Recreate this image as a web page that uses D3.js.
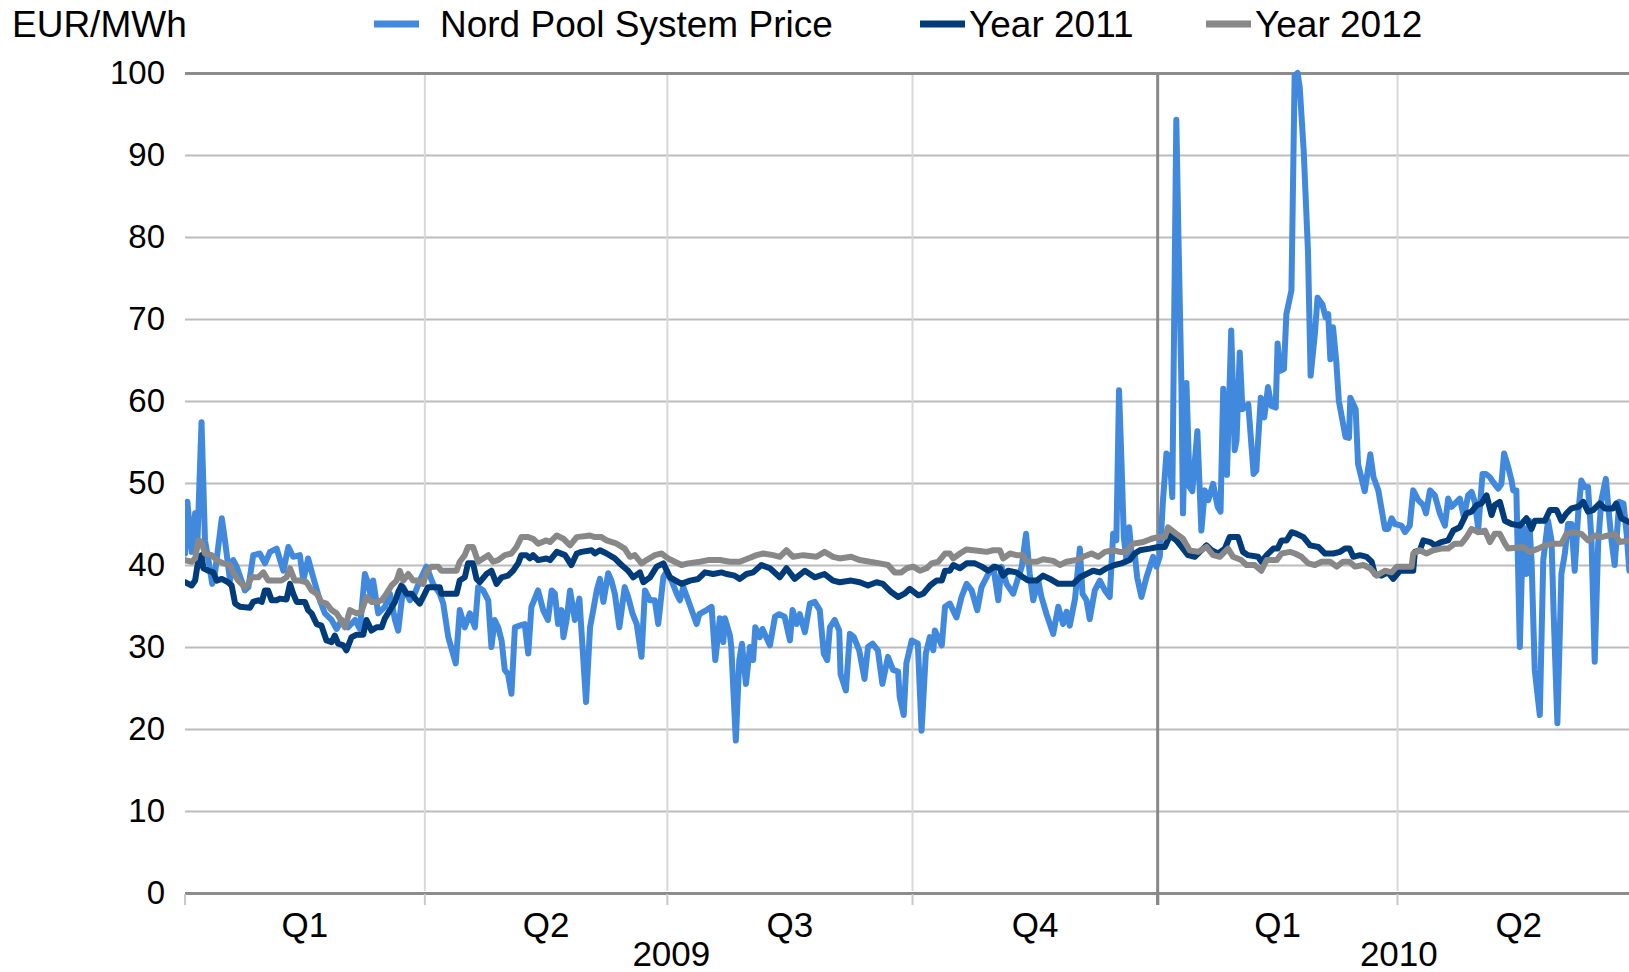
<!DOCTYPE html>
<html lang="en">
<head>
<meta charset="utf-8">
<title>Nord Pool System Price</title>
<script src="https://cdnjs.cloudflare.com/ajax/libs/d3/7.8.5/d3.min.js"></script>
<style>
  body { margin: 0; background: #fff; }
  svg { display: block; font-family: "Liberation Sans", Arial, sans-serif; }
  .y-axis .domain { display: none; }
  .y-axis text { font-size: 33px; fill: #000; }
  .qlabel, .ylabel { font-size: 35px; fill: #000; text-anchor: middle; }
  .legend text, .unit { font-size: 37px; fill: #000; }
</style>
</head>
<body>
<div id="chart"></div>
<script>

// values; day = days after 1 Jan 2009
const yTicks = [0, 10, 20, 30, 40, 50, 60, 70, 80, 90, 100];
const quarterStarts = ["2009-01-01", "2009-04-01", "2009-07-01", "2009-10-01", "2010-01-01", "2010-04-01", "2010-07-01"];
const quarterLabels = ["Q1", "Q2", "Q3", "Q4", "Q1", "Q2"];
const yearLabels = ["2009", "2010"];
const seriesNames = ["Nord Pool System Price", "Year 2011", "Year 2012"];

// [day, EUR/MWh]
const nordPool = [
  [0,41.4],[0.9,47.7],[2.5,41.6],[3.8,46.3],[4.6,42.2],[6.2,57.4],[7.5,43],[8.8,40.6],[10.2,37.7],[11.2,38.9],
  [13.8,45.7],[15,43],[16.9,38.1],[18.1,40.6],[19.4,39.8],[22.5,36.9],[23.8,37.3],[25.6,41.2],[28.1,41.4],[30,40.2],
  [31.9,41.6],[34.4,42],[36.9,39.3],[38.8,42.2],[40.6,41],[43.1,41.2],[44.4,38.1],[46.2,40.8],[48.1,38.5],[50.6,35.7],
  [52.5,34.1],[55,33.3],[56.9,32.2],[58.8,33.3],[61.2,32.4],[63.8,33.3],[65.6,32.2],[67.5,38.9],[68.8,37.7],[70,35.7],
  [70.6,38.1],[72.5,34.1],[75,34.9],[76.9,36.5],[78.8,33.3],[80,32],[81.9,37.3],[84.4,35.7],[86.2,36.5],[88.1,38.1],
  [90.6,39.8],[93.1,37.7],[95.6,36.5],[96.9,35.3],[98.8,31.2],[101.6,28],[103.1,34.5],[105,32.4],[106.9,34.1],[108.8,32.4],
  [110,37.3],[111.9,36.9],[113.8,35.7],[115,30],[116.2,33.3],[117.5,32.4],[118.8,30.8],[120,27.2],[121.2,26.7],[122.5,24.3],
  [123.8,32.4],[125.6,32.6],[127.5,32.8],[128.8,29.2],[130,34.9],[132.5,36.9],[134.4,34.5],[136.2,33.3],[137.6,36.9],[138.8,36.5],
  [140,32.8],[141.3,34.5],[142,31.2],[143.2,33.3],[144.5,36.9],[146.3,33.3],[148,35.9],[150.5,23.3],[152,32.4],[153.2,34.5],
  [154.5,36.9],[155.7,38.3],[157,35.5],[158.8,39],[160,38.1],[161.3,36.5],[163,32.4],[165,37.3],[166.3,36.1],[168,34],
  [169.5,32.8],[171.3,28.8],[172.6,36.9],[174.5,35.7],[176.3,35.7],[177.6,32.8],[179.5,38.5],[180.5,39.1],[182.6,38.1],[184.5,36.5],
  [185.7,35.7],[187,37.3],[188.8,35.7],[192,32.8],[193,34],[195.7,34.5],[197.6,34.9],[199,28.4],[200.7,33.5],[202,30.6],
  [202.6,33.5],[204.5,31.4],[205,30],[206.7,18.6],[208,28.4],[209,30.4],[210.5,25.5],[212,30],[213.2,28.4],[214,32.4],
  [215.7,31.2],[216.7,32.2],[219.5,30.2],[221.4,33.7],[223,34],[225,33.7],[227,30.8],[228,34.5],[229.5,32.8],[230.7,34],
  [232.6,31.8],[234.5,35.3],[236.3,35.5],[238.2,34.5],[239.7,29.2],[241,28.4],[242,32.4],[243.8,33.3],[245.5,32],[246,26.7],
  [248,24.7],[249.5,31.6],[251,31.2],[253,29.6],[255,26.1],[256.3,30],[258,30.4],[260,29.6],[261.7,25.5],[263.8,28.8],
  [265.7,27.2],[267.6,27],[268.2,23.9],[269.7,21.7],[270.7,28],[272.7,30.8],[275,30.4],[276.4,19.8],[278,29.2],[279.5,31.2],
  [280.8,29.6],[281.4,32],[284,30.2],[285.2,34.9],[287,35.3],[289.5,33.6],[291.4,36.1],[293.3,37.7],[295.2,36.9],[297.3,34.5],
  [298.9,37.3],[301.4,38.9],[303.3,39.8],[305.2,35.7],[306.4,39.8],[308.3,37.7],[310.8,36.5],[312.7,38.5],[314,39.8],[315.6,43.8],
  [317,38.9],[318.3,35.7],[320.2,38.1],[321.4,36.1],[323.3,34],[325.8,31.6],[327.7,34.9],[329.5,32.8],[330.8,34.3],[332,32.6],
  [334,35.9],[335.8,42],[336.8,36.5],[338.3,35.7],[339.5,33.4],[341.4,36.9],[343.3,38.1],[345.2,36.9],[347,36.1],[348.3,43.8],
  [349.5,43],[350.5,61.3],[351.4,52.8],[352.3,43.4],[353.3,40.6],[354.3,44.6],[355.2,41.4],[356.4,41.4],[357.3,38.5],[358.9,36.1],
  [360.8,38.5],[363.3,41],[364.5,39.8],[365.8,41],[367,47.9],[368.3,53.6],[369.5,53.2],[370.5,48.3],[371.2,70],[372,94.3],
  [372.8,80],[373.9,62.2],[374.5,46.3],[375.8,62.2],[377,49.5],[378,49],[379.9,56.3],[381.4,44.2],[382.7,49.1],[384,47.9],
  [385.8,49.9],[387.5,47.1],[388.6,46.5],[389.6,61.5],[391,51],[392.6,68.6],[393.9,54],[394.6,55.2],[395.8,65.9],[396.8,59],
  [399,59.6],[401,51.1],[402,51.5],[403.7,60.4],[405,58],[406.4,61.7],[407.7,59.4],[409.3,59.2],[410,67],[411,63.7],
  [412.4,63.9],[413.3,70.6],[415.2,73.5],[416.4,99.7],[417.5,100],[418.3,98.3],[419.8,90.5],[421.4,78.3],[422.4,63.1],[424,68.2],
  [425,72.6],[426.8,71.8],[428,70.2],[429,70.6],[429.8,65.1],[430.8,69],[432,64.9],[433,60],[435.5,55.6],[436.8,55.5],
  [437.3,60.4],[439.3,59],[440.2,52.3],[442.7,49],[444.8,53.5],[446,50.7],[447.8,49.1],[450.3,44.4],[451.5,44.4],[452.8,45.7],
  [454,45],[456.5,44.8],[457.8,44],[459.6,44.8],[460.9,49.1],[462.8,47.9],[464.7,47.3],[465.7,46.3],[467.2,49.1],[469,48.5],
  [470.9,46.3],[472.8,44.8],[474,48.1],[475.3,47.1],[477.2,47.7],[478.4,48.1],[479.9,45.9],[481.5,48.5],[482.8,48.9],[484,47.7],
  [485.3,44.4],[486.9,51.1],[488.2,51.1],[489.7,50.7],[490.9,50.1],[492.8,49.3],[494,49.9],[495,53.6],[496.5,52],[497.8,50.3],
  [498.4,49.1],[499.6,49.1],[500.9,30],[502.1,44.6],[503.4,38.9],[504.4,45.4],[505.3,40.6],[506.5,27.2],[508.4,21.7],[509.7,40.6],
  [511.5,45.4],[512.8,43],[513.6,34],[515,20.7],[516.5,38.9],[517.8,41.4],[519,45],[520.3,45],[521.5,39.3],[522.8,46.3],
  [524,50.3],[525.3,49.5],[526.5,49.5],[527.8,43],[529,28.2],[530.3,42.6],[531.5,47.9],[533.2,50.5],[534.1,47.1],[535.3,43],
  [536.5,40],[538.2,47.7],[539.8,47.5],[541,43.8],[542,39.3],[544,42]
];

const year2011 = [
  [0,37.9],[2.5,37.5],[3.8,38.1],[5,40.6],[6.2,41.2],[6.9,39.6],[8.8,39.3],[10.6,39.1],[11.9,38.1],[13.8,38.3],
  [16.2,37.9],[17.5,37.5],[18.8,35.3],[20.6,34.9],[24.4,34.8],[25.6,35.5],[27.5,35.7],[28.8,35.5],[30,36.9],[31.2,36.9],
  [32.5,35.7],[34.4,35.7],[35.6,35.9],[38.1,35.8],[39.4,37.7],[40.6,36.5],[41.9,35.5],[45,35.5],[46.2,34.5],[47.5,34.1],
  [49.4,32.8],[51.2,32.6],[53.1,30.8],[55,30.6],[56.2,31.4],[57.5,30.4],[59.4,30.2],[60.6,29.6],[62.5,31.2],[64.4,31.5],
  [66.9,31.5],[68.1,33.3],[70,32],[71.9,32.4],[73.8,32.4],[75,33.5],[76.9,34.5],[78.8,35.5],[80,36.7],[81.2,37.5],
  [83.1,36.5],[85,36.5],[86.9,35.7],[88.1,35.3],[90,36.5],[91.2,37.3],[95.6,37.3],[96.2,36.5],[101.9,36.5],[103.1,38.1],
  [105,38.5],[106.2,40.2],[108.1,40.2],[109.4,38.3],[110.6,37.9],[113.1,38.9],[115,39.3],[116.9,37.7],[118.8,38.5],[121.2,38.7],
  [123.1,39.3],[125,40.2],[126.2,41.2],[128.1,41.2],[129.4,40.8],[130.6,41.2],[132.5,40.6],[135.6,40.8],[137,40.6],[139.5,41.6],
  [142.6,41.2],[145,40],[147,41.4],[148.8,41.6],[152.6,41.8],[153.8,41.4],[155.7,41.8],[158.2,41.4],[161.3,40.8],[163.8,40],
  [166.3,39.3],[168.2,38.5],[170.7,39.1],[172,37.9],[174.5,38.5],[177,39.8],[179.5,40.2],[182,38.5],[186.3,37.7],[189.5,38.1],
  [192.6,38.3],[195.1,39.1],[198.2,38.9],[201.3,39.1],[203.2,38.9],[206.3,38.7],[208.2,38.3],[210.7,38.9],[213.2,39.1],[216.3,40],
  [219.5,39.6],[223.2,38.5],[225.7,39.6],[228.8,38.3],[232.6,39.3],[236.3,38.5],[240,38.9],[243.2,38.1],[245.7,37.9],[250,38.1],
  [253.2,37.9],[256.3,37.5],[259.5,37.9],[261.9,37.7],[265,36.7],[267.6,36.1],[270,36.5],[272,37.1],[275.2,36.3],[277,36.5],
  [279.6,37.5],[282,38.1],[284,38.1],[285.2,39.3],[287,39.3],[288.3,40],[290.8,39.6],[293.3,40.2],[296.4,40.2],[299,39.8],
  [301.4,39.3],[303.9,39.8],[305.8,39.6],[307,38.7],[308.9,39.3],[312,39.1],[314.5,38.5],[316.4,38.1],[319.6,38.1],[322,38.7],
  [324.6,38.3],[327.7,37.7],[333.3,37.7],[335.8,38.5],[338.3,38.9],[340.8,39.3],[343.3,39.1],[345.8,39.6],[348.9,40],[351.4,40.2],
  [354.5,40.6],[356.4,41.4],[358.3,41.8],[362,42],[365.2,42.2],[367.7,42.2],[369.6,43.6],[372,43],[374.5,42],[376.4,41.2],
  [378.9,41],[380.8,41.6],[383.3,42.4],[385.2,41.8],[387.7,41.4],[390.2,42],[392,43.4],[395.2,43.4],[397,41.6],[398.9,41.2],
  [402.7,41],[403.9,40.4],[405.9,41.2],[408.4,42],[410,42],[411.5,43],[413.4,43],[415.3,44],[417.2,43.8],[419.7,43.4],
  [422.2,42.4],[425.3,42.2],[427.8,41.4],[430.9,41.4],[433.4,41.6],[435.3,42],[437,42],[438.4,41],[440.9,41.2],[443.4,41],
  [445.3,40.4],[446.5,38.9],[449,38.7],[451.5,39.1],[453.4,38.3],[455.9,39.3],[460.9,39.3],[461.5,41.6],[463.4,41.8],[464.7,43],
  [467.2,42.8],[469,42.4],[471.5,42.8],[474,43],[475.9,44.2],[478.4,44.6],[480.9,46.3],[482.8,46.5],[484.7,47.3],[486.5,47.5],
  [488.4,48.5],[490.3,46.1],[491.5,47.3],[493.4,47.7],[495.3,45.4],[497.8,45],[500.9,44.8],[503.4,45.7],[505.3,44.4],[506.5,45.4],
  [510.3,45.4],[512.2,46.7],[514.7,46.7],[516.5,45.4],[518.4,46.3],[520.3,46.9],[522.8,47.1],[524.7,47.7],[526.5,46.5],[528.4,46.7],
  [530.9,47.5],[532.8,46.9],[535.9,46.9],[537.1,47.5],[539,45.7],[542.1,45.2],[545,45]
];

const year2012 = [
  [0,40.6],[2.5,40.4],[3.8,40.8],[5,43],[6.2,42.8],[7.5,41.4],[10,41.2],[11.9,40.6],[14.4,40.2],[16.9,40],
  [18.1,39.1],[20,38.1],[22.5,37.3],[23.8,37.7],[25,38.5],[27.5,38.5],[29.4,39.1],[31.2,38.1],[33.8,38.1],[36.2,38.1],
  [38.1,38.5],[39.4,39.6],[41.2,38.1],[43.1,38.1],[45.6,37.9],[47.5,36.9],[49.4,36.5],[51.2,35.5],[53.1,35.3],[55,34.5],
  [56.9,34.1],[58.1,33.5],[60,32.4],[61.9,34.5],[64.4,34.1],[66.2,34.3],[68.1,36.1],[70,35.5],[71.9,35.5],[73.8,35.7],
  [75.6,36.5],[77.5,37.5],[79.4,38.1],[80.6,39.3],[81.9,38.1],[83.8,38.9],[85.6,38.1],[87.5,38.1],[89.4,37.7],[90.6,39.1],
  [92.5,39.8],[95,39.8],[96.2,39.3],[101.9,39.3],[103.1,40.4],[105,41.2],[106.2,42.2],[108.1,42.2],[110,40.4],[111.9,40.8],
  [113.8,41.2],[115.6,40.4],[117.5,40.6],[120,41.2],[122.5,41.4],[124.4,42.2],[126.2,43.4],[128.8,43.4],[130.6,43.2],[132.5,42.6],
  [135.6,43],[137,42.8],[139.5,43.6],[142,43.2],[144.5,42.4],[147,43.4],[152,43.6],[153.8,43.4],[156.3,43.4],[158.2,43],
  [162,42.6],[165,42],[167,41],[168.8,41.2],[171.3,40.2],[173.2,40.6],[176.3,41.2],[178.8,41.4],[181.3,40.8],[183.8,40.4],
  [186.3,40],[188.8,40.2],[193.2,40.4],[196.3,40.6],[200.7,40.6],[204.5,40.4],[208.2,40.4],[211.3,40.8],[214.5,41.2],[217,41.4],
  [220.7,41.2],[223.2,41],[225.7,41.8],[228.2,41],[232,41.2],[237,41],[240,41.6],[243.2,41],[245.7,40.8],[250,41],
  [253.2,40.6],[257,40.4],[260.7,40.2],[263.8,40],[266.3,39.1],[268.8,39.1],[270.8,39.6],[273.3,39.8],[275.8,39.3],[278.3,39.6],
  [280.2,40.2],[282.7,40.4],[285.2,41.4],[287,41.4],[288.3,40.8],[290.8,41.4],[293.3,41.9],[298.3,41.7],[300.8,41.6],[303.3,41.8],
  [305.8,41.8],[307,40.8],[309.6,41.4],[312,41.2],[314.5,41.2],[315.8,40.4],[319.6,40.4],[322,40.7],[325.8,40.5],[328.3,40],
  [330.8,40.4],[334.6,40.6],[337,41],[340.2,41.4],[342.7,41],[345.2,41.6],[348.3,41.8],[350.8,41.6],[353.3,41.6],[355.8,42.6],
  [359.6,42.8],[362.7,43.2],[365.2,43.4],[367.7,43.4],[368.9,44.6],[372,43.8],[374.5,43.2],[377,41.8],[380.2,41.6],[383.3,42.2],
  [385.8,41.2],[388.3,41],[391.4,42],[393.3,41],[396.4,40.6],[398.3,40],[401.4,40],[403.9,39.3],[405.9,40.6],[409.7,40.6],
  [411.5,41.4],[414.7,41.6],[416.5,41.4],[419,41],[421.5,40.2],[424,40],[426.5,40.4],[429.7,40.4],[432.2,39.8],[434.6,40.4],
  [437,40.4],[439,39.8],[442.2,40],[444.7,39.6],[447.2,38.7],[450.3,39.3],[452.8,39.1],[454.7,39.8],[460.3,39.8],[460.9,41.4],
  [463.4,41.8],[465.9,41.4],[468.4,41.8],[471.5,42],[474,42],[476.5,42.6],[479,42.6],[480.9,43.4],[482.8,44.4],[485.3,44],
  [487.8,44.2],[489.7,42.8],[491.5,43.8],[493.4,43.8],[495.3,42.6],[496.5,42],[502.1,42.2],[504.6,41.6],[507.8,42],[510.3,42.4],
  [513.4,42.6],[516.5,42.6],[518.4,43.8],[520.9,44],[524,43.8],[526.5,43],[529,43.6],[531.5,43.4],[534,43.6],[536.5,43.8],
  [538.4,42.8],[542.1,43],[545,43]
];

const colors = ["#4189dd", "#003b7a", "#888888"];

const width = 1629;
const height = 972;
const margin = {left: 185, right: 0, top: 73, bottom: 79};

const parseDay = d3.utcParse("%Y-%m-%d");
const quarters = quarterStarts.map(parseDay);
const start = quarters[0];
const toDate = day => new Date(start.getTime() + day * 864e5);

const xScale = d3.scaleUtc()
    .domain([quarters[0], quarters[quarters.length - 1]])
    .range([margin.left, 1640]);

const yScale = d3.scaleLinear()
    .domain([0, 100])
    .range([height - margin.bottom, margin.top]);

const svg = d3.select("#chart")
    .append("svg")
    .attr("width", width)
    .attr("height", height);

svg.append("rect").attr("width", width).attr("height", height).attr("fill", "#fff");

// horizontal grid + y labels
const yAxis = d3.axisLeft(yScale)
    .tickValues(yTicks)
    .tickSize(-(width - margin.left))
    .tickPadding(20);

const yGroup = svg.append("g")
    .attr("class", "y-axis")
    .attr("transform", "translate(" + margin.left + ",0)")
    .call(yAxis);

yGroup.selectAll(".tick line")
    .attr("stroke", d => (d === 0 || d === 100) ? "#8c8c8c" : "#bcbcbc")
    .attr("stroke-width", d => (d === 0 || d === 100) ? 3 : 2);

// vertical quarter lines (year boundary is darker)
const isYearStart = d => d.getUTCMonth() === 0;
svg.append("g")
    .selectAll("line")
    .data(quarters.slice(1, -1))
    .join("line")
      .attr("x1", d => xScale(d))
      .attr("x2", d => xScale(d))
      .attr("y1", yScale(100) + 2)
      .attr("y2", d => isYearStart(d) ? yScale(0) + 12 : yScale(0) - 2)
      .attr("stroke", d => isYearStart(d) ? "#888" : "#d8d8d8")
      .attr("stroke-width", d => isYearStart(d) ? 3 : 2);

// little ticks under the axis
svg.append("g")
    .selectAll("line")
    .data(quarters.slice(0, -1))
    .join("line")
      .attr("x1", d => xScale(d))
      .attr("x2", d => xScale(d))
      .attr("y1", yScale(0) + 1)
      .attr("y2", yScale(0) + 12)
      .attr("stroke", d => isYearStart(d) && d > start ? "#888" : "#c8c8c8")
      .attr("stroke-width", d => isYearStart(d) && d > start ? 3 : 2);

// quarter and year labels
svg.append("g")
    .selectAll("text")
    .data(quarterLabels)
    .join("text")
      .attr("class", "qlabel")
      .attr("x", (d, i) => (xScale(quarters[i]) + xScale(quarters[i + 1])) / 2)
      .attr("y", 937)
      .text(d => d);

const yearBounds = [[quarters[0], quarters[4]], [quarters[4], quarters[6]]];
svg.append("g")
    .selectAll("text")
    .data(yearLabels)
    .join("text")
      .attr("class", "ylabel")
      .attr("x", (d, i) => (xScale(yearBounds[i][0]) + xScale(yearBounds[i][1])) / 2)
      .attr("y", 966)
      .text(d => d);

// lines
svg.append("clipPath").attr("id", "plot-clip")
  .append("rect")
    .attr("x", margin.left).attr("y", 0)
    .attr("width", width - margin.left).attr("height", height);

const line = d3.line()
    .x(d => xScale(toDate(d[0])))
    .y(d => yScale(d[1]));

const seriesData = [nordPool, year2011, year2012];

svg.append("g")
    .attr("clip-path", "url(#plot-clip)")
    .selectAll("path")
    .data(seriesData)
    .join("path")
      .attr("d", line)
      .attr("fill", "none")
      .attr("stroke", (d, i) => colors[i])
      .attr("stroke-width", 6)
      .attr("stroke-linejoin", "round")
      .attr("stroke-linecap", "round");

// unit + legend
svg.append("text")
    .attr("class", "unit")
    .attr("x", 12)
    .attr("y", 37)
    .text("EUR/MWh");

const legendX = [374, 920, 1206];
const legend = svg.append("g").attr("class", "legend")
    .selectAll("g")
    .data(seriesNames)
    .join("g")
      .attr("transform", (d, i) => "translate(" + legendX[i] + ",0)");

legend.append("line")
    .attr("x1", 0).attr("x2", 45)
    .attr("y1", 24).attr("y2", 24)
    .attr("stroke", (d, i) => colors[i])
    .attr("stroke-width", 7);

legend.append("text")
    .attr("x", (d, i) => i === 0 ? 66 : 49)
    .attr("y", 37)
    .text(d => d);

</script>
</body>
</html>
